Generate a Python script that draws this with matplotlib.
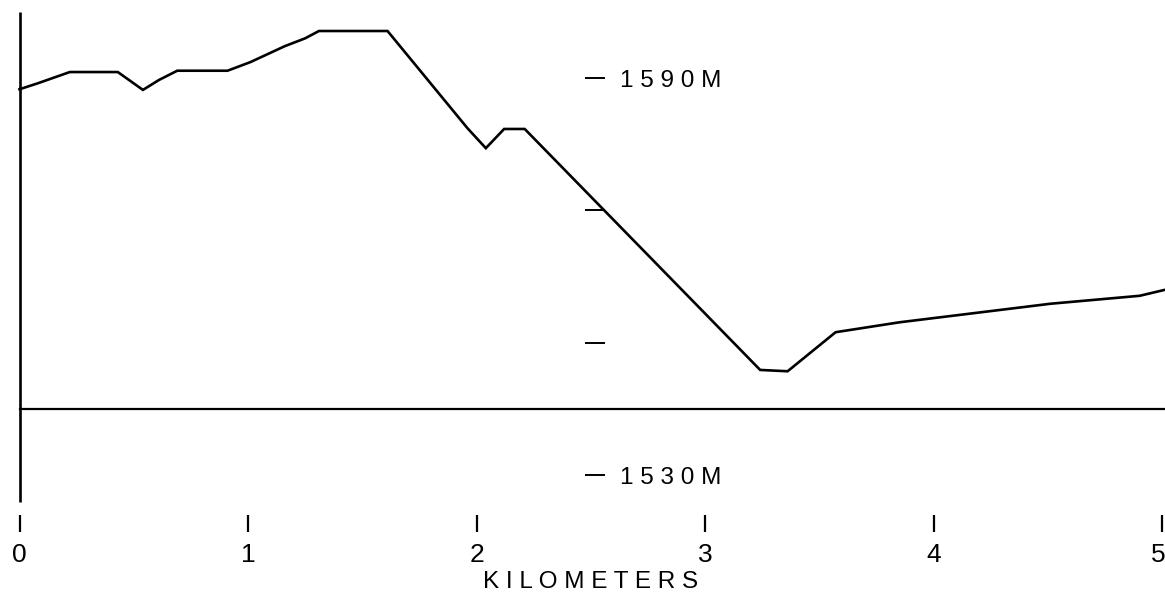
import matplotlib.pyplot as plt
import numpy as np

# profile: distance (km) vs elevation (m)
dist_km = [0.0, 0.08, 0.22, 0.43, 0.54, 0.61, 0.69, 0.91, 1.01, 1.16, 1.25, 1.31,
           1.61, 1.96, 2.04, 2.12, 2.21, 3.24, 3.36, 3.57, 3.85, 4.51, 4.90, 5.01]
elev_m = [1588.3, 1589.2, 1590.9, 1590.9, 1588.2, 1589.7, 1591.1, 1591.1, 1592.4,
          1594.8, 1596.0, 1597.1, 1597.1, 1582.4, 1579.4, 1582.3, 1582.3, 1545.9,
          1545.7, 1551.6, 1553.1, 1555.9, 1557.1, 1558.0]

x_ticks = [0, 1, 2, 3, 4, 5]
x_tick_labels = ["0", "1", "2", "3", "4", "5"]
y_ticks = [1590, 1570, 1550, 1530]
y_tick_labels = ["1 5 9 0 M", "", "", "1 5 3 0 M"]
base_elev = 1540

fig = plt.figure(figsize=(11.65, 5.93), dpi=100)
ax = fig.add_axes([0, 0, 1, 1])
ax.set_xlim(-19.5 / 228.6, (1165 - 19.5) / 228.6)
ax.set_ylim(1590 - (593 - 78) / 6.62, 1590 + 78 / 6.62)
ax.axis("off")

lw = 1.9
# profile
ax.plot(dist_km, elev_m, color="black", lw=lw, solid_joinstyle="miter")
# left axis and base line
ax.plot([0, 0], [1600, 1526], color="black", lw=lw, solid_capstyle="butt")
ax.plot([0, 5.02], [base_elev, base_elev], color="black", lw=1.6)

# bottom ticks and labels
for x, lab in zip(x_ticks, x_tick_labels):
    ax.plot([x, x], [1524.0, 1521.4], color="black", lw=1.6, solid_capstyle="butt")
    if x == x_ticks[-1]:
        ax.text(x + 0.012, 1518.0, lab, ha="right", va="center", fontsize=19,
                family="Liberation Sans")
    else:
        ax.text(x, 1518.0, lab, ha="center", va="center", fontsize=19,
                family="Liberation Sans")
ax.text(2.5, 1513.8, "K I L O M E T E R S", ha="center", va="center",
        fontsize=17.5, family="Liberation Sans")

# elevation scale in the middle
for y, lab in zip(y_ticks, y_tick_labels):
    ax.plot([2.475, 2.56], [y, y], color="black", lw=1.4, solid_capstyle="butt")
    if lab:
        ax.text(2.625, y - 0.4, lab, ha="left", va="center", fontsize=17.5,
                family="Liberation Sans")

fig.savefig("out.png", dpi=100)
